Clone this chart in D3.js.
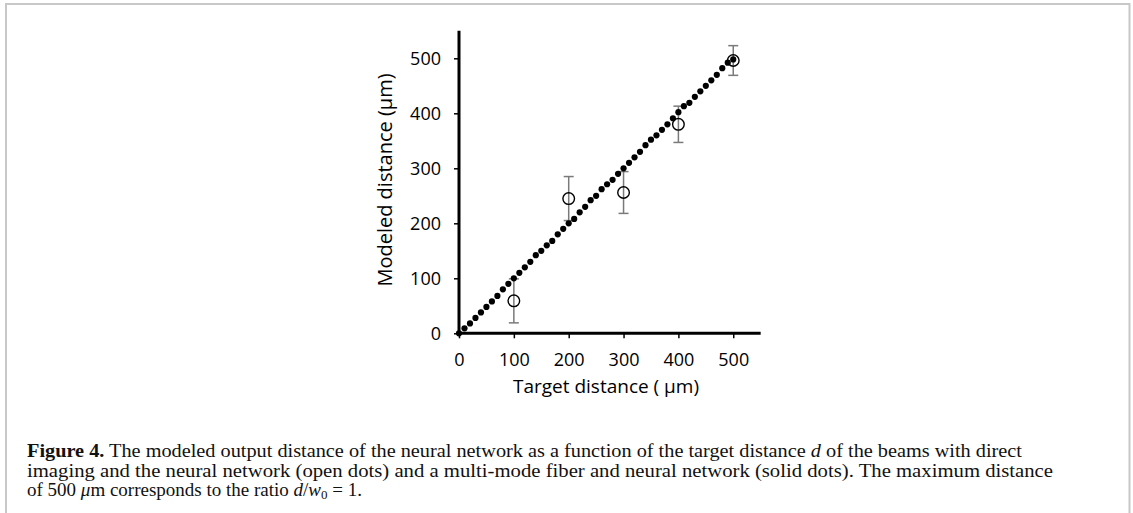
<!DOCTYPE html>
<html><head><meta charset="utf-8">
<script src="https://cdn.jsdelivr.net/npm/d3@7"></script>
<style>
html,body{margin:0;padding:0;background:#fff;}
svg{display:block;}
</style></head>
<body>
<svg id="c" width="1133" height="513"></svg>
<script>
// Solid dots: multi-mode fiber + neural network
const solidX = [0,10,20,30,40,50,60,70,80,90,100,110,120,130,140,150,160,170,180,190,200,210,220,230,240,250,260,270,280,290,300,310,320,330,340,350,360,370,380,390,400,410,420,430,440,450,460,470,480,490,500];
const solidY = [0,9,18,28,38,48,58,68,80,90,100,110,120,130,142,150,160,168,180,190,200,208,220,230,242,250,262,271,279,290,300,310,320,330,342,352,360,370,380,391,402,413,419,430,440,450,460,470,482,492,498];
// Open dots: direct imaging + neural network, with error bars
const openX = [100,200,300,400,500];
const openY = [59,245,256,380,496];
const openErr = [40,40,38,33,27];
const xTicks = [0,100,200,300,400,500];
const yTicks = [0,100,200,300,400,500];

const svg = d3.select("#c");
// frame
svg.append("path").attr("d","M6,513 V4 H1129.5 V513").attr("fill","none").attr("stroke","#c8c8c8").attr("stroke-width",2);

const x0 = 459, y0 = 333.3;
const x = d3.scaleLinear().domain([0,550]).range([x0, x0 + 550*0.5485]);
const y = d3.scaleLinear().domain([0,550]).range([y0, y0 - 550*0.55]);
const axisFont = "'Open Sans', sans-serif";

// error bars
const eb = svg.append("g").attr("stroke","#7a7a7a").attr("stroke-width",1.5);
openX.forEach((v,i)=>{
  const cx = x(v), lo = y(openY[i]-openErr[i]), hi = y(openY[i]+openErr[i]);
  eb.append("line").attr("x1",cx).attr("x2",cx).attr("y1",lo).attr("y2",hi);
  eb.append("line").attr("x1",cx-5).attr("x2",cx+5).attr("y1",lo).attr("y2",lo);
  eb.append("line").attr("x1",cx-5).attr("x2",cx+5).attr("y1",hi).attr("y2",hi);
});
// solid dots
svg.append("g").selectAll("circle").data(solidX).join("circle")
  .attr("cx",d=>x(d)).attr("cy",(d,i)=>y(solidY[i])).attr("r",3.1).attr("fill","#000");
// open dots
svg.append("g").selectAll("circle").data(openX).join("circle")
  .attr("cx",d=>x(d)).attr("cy",(d,i)=>y(openY[i])).attr("r",5.8)
  .attr("fill","none").attr("stroke","#000").attr("stroke-width",1.4);

// axes
const xa = svg.append("g").attr("transform",`translate(0,${y0})`)
  .call(d3.axisBottom(x).tickValues(xTicks).tickSize(5).tickSizeOuter(0));
xa.select(".domain").attr("stroke-width",3).attr("d",`M${x0-1.5},0H${x(550)}`);
xa.selectAll(".tick line").attr("stroke-width",1.5);
xa.selectAll(".tick text").attr("font-family",axisFont).attr("font-size",18).attr("fill","#000")
  .attr("y",0).attr("dy",0).attr("transform","translate(0,33)");

const ya = svg.append("g").attr("transform",`translate(${x0},0)`)
  .call(d3.axisLeft(y).tickValues(yTicks).tickSize(5).tickSizeOuter(0));
ya.select(".domain").attr("stroke-width",3).attr("d",`M0,${y0+1.5}V${y(550)}`);
ya.selectAll(".tick line").attr("stroke-width",1.5);
ya.selectAll(".tick text").attr("font-family",axisFont).attr("font-size",18).attr("fill","#000").attr("x",-18);
svg.selectAll(".domain").attr("stroke","#000");

svg.append("text").attr("x",606).attr("y",393).attr("text-anchor","middle")
  .attr("font-family",axisFont).attr("font-size",19).attr("fill","#000").text("Target distance ( µm)");
svg.append("text").attr("transform","translate(392,180) rotate(-90)").attr("text-anchor","middle")
  .attr("font-family",axisFont).attr("font-size",20).attr("fill","#000").text("Modeled distance (µm)");

// caption
const serif = "'Liberation Serif', 'DejaVu Serif', serif";
const cap = svg.append("g").attr("font-family",serif).attr("font-size",19).attr("fill","#111");
const l1 = cap.append("text").attr("x",27).attr("y",457).attr("textLength",995).attr("lengthAdjust","spacingAndGlyphs");
l1.append("tspan").attr("font-weight","bold").text("Figure 4.");
l1.append("tspan").text(" The modeled output distance of the neural network as a function of the target distance ");
l1.append("tspan").attr("font-style","italic").text("d");
l1.append("tspan").text(" of the beams with direct");
cap.append("text").attr("x",27).attr("y",477).attr("textLength",1026).attr("lengthAdjust","spacingAndGlyphs")
  .text("imaging and the neural network (open dots) and a multi-mode fiber and neural network (solid dots). The maximum distance");
const l3 = cap.append("text").attr("x",27).attr("y",496);
l3.append("tspan").text("of 500 ");
l3.append("tspan").attr("font-style","italic").text("μ");
l3.append("tspan").text("m corresponds to the ratio ");
l3.append("tspan").attr("font-style","italic").text("d");
l3.append("tspan").text("/");
l3.append("tspan").attr("font-style","italic").text("w");
l3.append("tspan").attr("font-size",13).attr("dy",3).text("0");
l3.append("tspan").attr("dy",-3).text(" = 1.");
</script>
</body></html>
